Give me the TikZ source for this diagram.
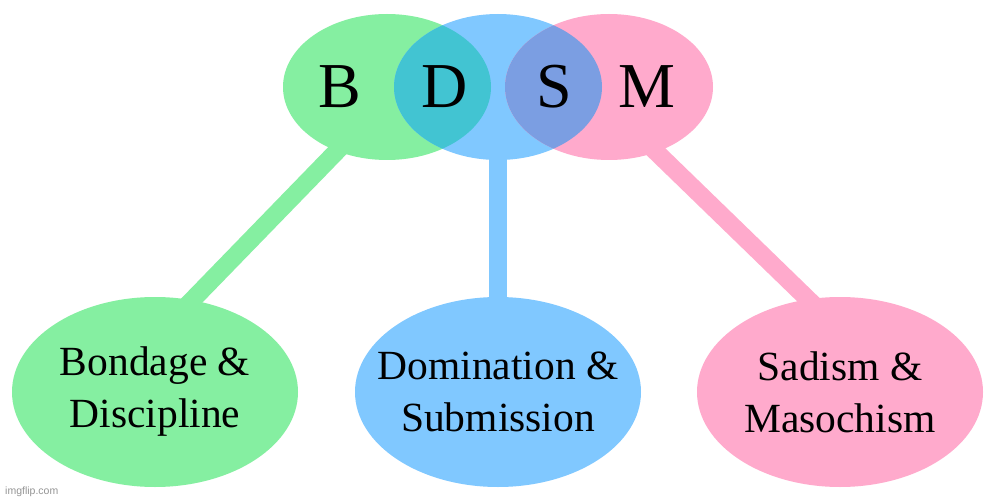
\documentclass[tikz,border=0pt]{standalone}
\usepackage{fontspec}
\setmainfont{Liberation Serif}
\newfontfamily\wmfont{Liberation Sans}
\usetikzlibrary{shapes.geometric}
\definecolor{bgreen}{RGB}{133,239,161}
\definecolor{bblue}{RGB}{128,200,255}
\definecolor{bpink}{RGB}{255,170,204}
\definecolor{bteal}{RGB}{66,196,210}
\definecolor{bpurple}{RGB}{123,158,226}
\pgfdeclarelayer{back}
\pgfsetlayers{back,main}
\tikzset{
  topell/.style={ellipse, minimum width=208pt, minimum height=146pt, inner sep=0pt, outer sep=0pt, draw=none},
  botell/.style={ellipse, minimum width=286pt, minimum height=190pt, inner sep=0pt, outer sep=0pt, draw=none},
  bottxt/.style={inner sep=0pt, align=center, font=\fontsize{41.5}{52}\selectfont},
  letter/.style={inner sep=0pt, anchor=base, font=\fontsize{64}{70}\selectfont},
  link/.style={line width=18pt, shorten <=-14pt, shorten >=-14pt},
}
\begin{document}
\begin{tikzpicture}[x=1pt,y=-1pt]
\useasboundingbox (0,0) rectangle (996,500);
\begin{pgfonlayer}{back}
\fill[white] (0,0) rectangle (996,500);
\end{pgfonlayer}
% bottom ellipses
\node[botell, fill=bgreen] (Gb) at (155,392) {};
\node[botell, fill=bblue]  (Db) at (498,392) {};
\node[botell, fill=bpink]  (Pb) at (840,392) {};
\node[bottxt] (Gtx) at (Gb.center) {Bondage \&\\Discipline};
\node[bottxt] (Dtx) at (Db.center) {Domination \&\\Submission};
\node[bottxt] (Ptx) at (Pb.center) {Sadism \&\\Masochism};
% top ellipses
\node[topell, fill=bgreen] (Gt) at (387,87) {};
\node[topell, fill=bblue]  (Dt) at (498,87) {};
\node[topell, fill=bpink]  (Pt) at (609,87) {};
\begin{scope}
  \clip (387,87) ellipse [x radius=104pt, y radius=73pt];
  \fill[bteal] (498,87) ellipse [x radius=104pt, y radius=73pt];
\end{scope}
\begin{scope}
  \clip (498,87) ellipse [x radius=104pt, y radius=73pt];
  \fill[bpurple] (609,87) ellipse [x radius=104pt, y radius=73pt];
\end{scope}
% letters
\node[letter] (LB) at (340,108) {B};
\node[letter] (LD) at (445,108) {D};
\node[letter] (LS) at (554,108) {S};
\node[letter] (LM) at (647,108) {M};
% connectors
\begin{pgfonlayer}{back}
\draw[link, bgreen] (Gt.232.6) -- (Gb.68.1);
\draw[link, bblue]  (Dt.south) -- (Db.north);
\draw[link, bpink]  (Pt.306.4) -- (Pb.109.7);
\end{pgfonlayer}
% watermark
\node[inner sep=0pt, anchor=west, text=black!42, font=\wmfont\fontsize{10.5}{12}\selectfont] (wm) at (5,492) {imgflip.com};
\end{tikzpicture}
\end{document}
